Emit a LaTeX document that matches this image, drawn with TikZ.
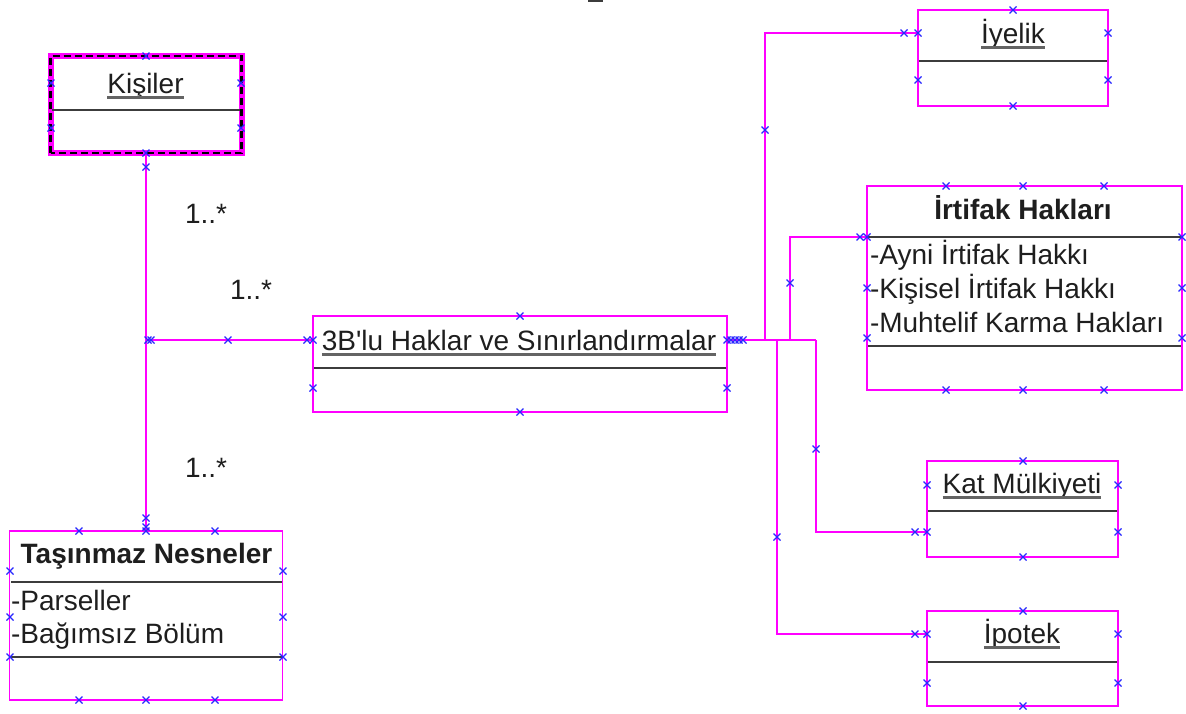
\documentclass[tikz,border=0pt]{standalone}
\usepackage{fontspec}
\setmainfont{Liberation Sans}
\definecolor{mag}{RGB}{255,0,255}
\definecolor{hblue}{RGB}{40,40,255}
\definecolor{txt}{RGB}{30,30,30}
\definecolor{sepc}{RGB}{60,60,60}
\definecolor{ulc}{RGB}{100,100,100}
\begin{document}
\begin{tikzpicture}[x=1pt,y=-1pt,
  box/.style={draw=mag, line width=1.8pt, fill=white, inner sep=0pt, outer sep=0pt},
  sepline/.style={draw=sepc, line width=2.2pt},
  conn/.style={draw=mag, line width=1.8pt},
  lbl/.style={font=\fontsize{28}{34}\selectfont, text=txt, inner sep=0pt, outer sep=0pt},
  blbl/.style={lbl, font=\fontsize{28}{34}\selectfont\bfseries},
  ul/.style={draw=ulc, line width=2.2pt},
  hnd/.style={draw=hblue, line width=1.1pt}]
\useasboundingbox (0,0) rectangle (1186,713);
\fill[white] (0,0) rectangle (1186,713);
\fill[sepc] (588,0) rectangle (603,2);

% junction coordinates
\coordinate (j1) at (146,340);
\coordinate (j2) at (816,340);
\coordinate (jiy) at (765,340);
\coordinate (jir) at (790,340);
\coordinate (jka) at (816,340);
\coordinate (jip) at (777,340);

% boxes
\node[box, line width=6pt, minimum width=191pt, minimum height=97pt] (kis) at (146,104.5) {};
\draw[black, line width=2.4pt, dash pattern=on 7pt off 4pt] (kis.south west) rectangle (kis.north east);
\node[box, minimum width=414pt, minimum height=96pt] (b3) at (520,364) {};
\node[box, minimum width=190pt, minimum height=96pt] (iye) at (1013,58) {};
\node[box, minimum width=315pt, minimum height=204pt] (irt) at (1024.5,288) {};
\node[box, minimum width=191pt, minimum height=96pt] (kat) at (1022.5,509) {};
\node[box, minimum width=191pt, minimum height=95pt] (ipo) at (1022.5,658.5) {};
\node[box, minimum width=273pt, minimum height=169pt] (tas) at (146,615.5) {};

% connector paths
\draw[conn] (kis.south) -- (tas.north);
\draw[conn] (j1) -- (j1 -| b3.west);
\draw[conn] (b3.east |- j2) -- (j2);
\coordinate (iyA) at (765,33);
\draw[conn] (jiy) -- (iyA) -- (iyA -| iye.west);
\coordinate (irA) at (790,237);
\draw[conn] (jir) -- (irA) -- (irA -| irt.west);
\coordinate (kaA) at (816,532);
\draw[conn] (jka) -- (kaA) -- (kaA -| kat.west);
\coordinate (ipA) at (777,634);
\draw[conn] (jip) -- (ipA) -- (ipA -| ipo.west);

% separators
\draw[sepline] (52,110) -- (240,110);
\draw[sepline] (314,368) -- (726,368);
\draw[sepline] (919,61) -- (1107,61);
\draw[sepline] (868,237) -- (1181,237);
\draw[sepline] (868,346) -- (1181,346);
\draw[sepline] (928,511) -- (1117,511);
\draw[sepline] (928,662) -- (1117,662);
\draw[sepline] (11,582) -- (282,582);
\draw[sepline] (11,657) -- (282,657);

% texts
\node[lbl, anchor=base] (kisT) at (145.5,93) {Kişiler};
\draw[ul] ([yshift=-4.5pt]kisT.base west) -- ([yshift=-4.5pt]kisT.base east);
\node[lbl, anchor=base] (b3T) at (519,350) {3B\textquotesingle lu Haklar ve Sınırlandırmalar};
\draw[ul] ([yshift=-4.5pt]b3T.base west) -- ([yshift=-4.5pt]b3T.base east);
\node[lbl, anchor=base] (iyeT) at (1013,43) {İyelik};
\draw[ul] ([yshift=-4.5pt]iyeT.base west) -- ([yshift=-4.5pt]iyeT.base east);
\node[blbl, anchor=base] (irtT) at (1023,219) {İrtifak Hakları};
\node[lbl, anchor=base west] (irt1) at (870,264) {-Ayni İrtifak Hakkı};
\node[lbl, anchor=base west] (irt2) at (870,298) {-Kişisel İrtifak Hakkı};
\node[lbl, anchor=base west] (irt3) at (870,332) {-Muhtelif Karma Hakları};
\node[lbl, anchor=base] (katT) at (1022,493) {Kat Mülkiyeti};
\draw[ul] ([yshift=-4.5pt]katT.base west) -- ([yshift=-4.5pt]katT.base east);
\node[lbl, anchor=base] (ipoT) at (1022,643) {İpotek};
\draw[ul] ([yshift=-4.5pt]ipoT.base west) -- ([yshift=-4.5pt]ipoT.base east);
\node[blbl, anchor=base] (tasT) at (146.5,563) {Taşınmaz Nesneler};
\node[lbl, anchor=base west] (tas1) at (11,610) {-Parseller};
\node[lbl, anchor=base west] (tas2) at (11,643) {-Bağımsız Bölüm};
\node[lbl, anchor=base west] (m1) at (185,223) {1..*};
\node[lbl, anchor=base west] (m2) at (230,299) {1..*};
\node[lbl, anchor=base west] (m3) at (185,477) {1..*};

% selection handles
\foreach \p in {(146,56),(51,83),(51,128),(241,83),(241,128),(146,153),(146,167),
  (146,518),(146,527),(148,340),(151,340),(228,340),(307,340),(313,340),
  (520,316),(520,412),(313,388),(727,388),(727,340),(731,340),(735,340),(739,340),(743,340),
  (1013,10),(1013,106),(918,33),(918,80),(1108,33),(1108,80),(904,33),(765,130),
  (946,186),(1023,186),(1104,186),(946,390),(1023,390),(1104,390),(867,237),(860,237),(867,288),(867,338),(1182,237),(1182,288),(1182,338),(790,283),
  (1023,461),(1023,557),(927,485),(927,532),(915,532),(1118,485),(1118,532),(816,449),
  (1023,611),(1023,706),(927,634),(915,634),(927,683),(1118,634),(1118,683),(777,537),
  (79,531),(146,531),(215,531),(79,700),(146,700),(215,700),(10,571),(10,617),(10,657),(283,571),(283,617),(283,657)}
  \draw[hnd] \p +(-3.5,-3.5) -- +(3.5,3.5) +(-3.5,3.5) -- +(3.5,-3.5);
\end{tikzpicture}
\end{document}
